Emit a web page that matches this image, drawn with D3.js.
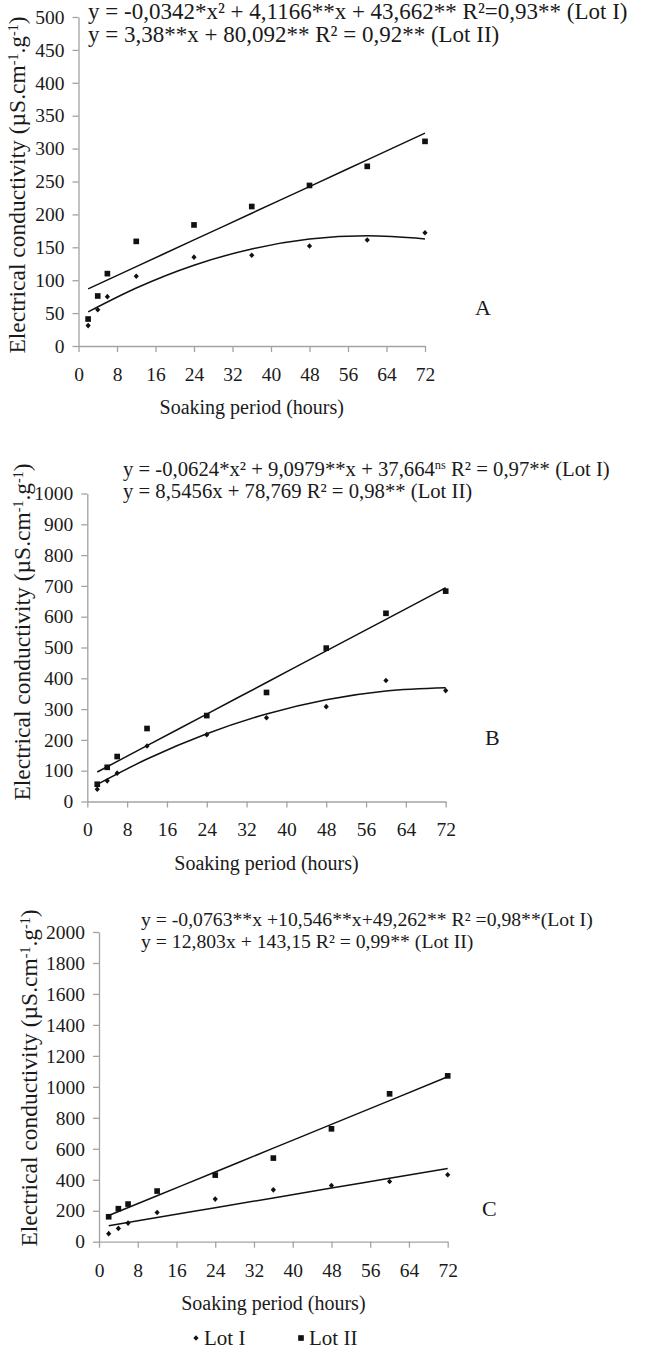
<!DOCTYPE html>
<html>
<head>
<meta charset="utf-8">
<script src="https://cdn.jsdelivr.net/npm/d3@7"></script>
<style>
  body { margin: 0; background: #fff; }
  svg text { font-family: "Liberation Serif", "Times New Roman", serif; fill: #1a1a1a; }
</style>
</head>
<body>
<div id="chart"></div>
<script>
// soaking times (hours) where conductivity was measured
const hours = [2, 4, 6, 12, 24, 36, 48, 60, 72];
const xTicks = [0, 8, 16, 24, 32, 40, 48, 56, 64, 72];

const lotI_A  = [31, 55, 75, 106, 135, 138, 152, 161, 172];
const lotII_A = [41, 76, 110, 159, 184, 212, 244, 273, 311];
const lotI_B  = [40, 67, 92, 180, 217, 272, 308, 393, 360];
const lotII_B = [56, 111, 146, 237, 279, 354, 498, 611, 683];
const lotI_C  = [52, 86, 120, 189, 275, 335, 363, 389, 432];
const lotII_C = [161, 213, 243, 327, 430, 540, 729, 955, 1071];

// trend lines, read at these hours
const trendHours = [2, 12, 24, 36, 48, 60, 72];
const trendI_A  = [51.8, 88.1, 122.8, 147.5, 162.5, 167.5, 162.8];
const trendII_A = [86.9, 120.7, 161.2, 201.8, 242.3, 282.9, 323.5];
const trendI_B  = [55.6, 137.9, 220.1, 284.3, 330.6, 358.9, 369.2];
const trendII_B = [95.9, 181.3, 283.9, 386.4, 489.0, 591.5, 694.1];
const trendI_C  = [103, 155.9, 219.3, 282.7, 346.1, 409.6, 473];
const trendII_C = [168.8, 296.8, 450.4, 604.1, 757.7, 911.3, 1065];

const yTicksA = d3.range(0, 501, 50);
const yTicksB = d3.range(0, 1001, 100);
const yTicksC = d3.range(0, 2001, 200);

// equation labels: [text, superscript?]
const eqA = [
  [["y = -0,0342*x² + 4,1166**x + 43,662** R²=0,93** (Lot I)"]],
  [["y = 3,38**x + 80,092** R² = 0,92** (Lot II)"]]
];
const eqB = [
  [["y = -0,0624*x² + 9,0979**x + 37,664"], ["ns", true], [" R² = 0,97** (Lot I)"]],
  [["y = 8,5456x + 78,769 R² = 0,98** (Lot II)"]]
];
const eqC = [
  [["y = -0,0763**x +10,546**x+49,262** R² =0,98**(Lot I)"]],
  [["y = 12,803x + 143,15 R² = 0,99** (Lot II)"]]
];

const W = 655, H = 1352;
const serif = '"Liberation Serif", "Times New Roman", serif';
const svg = d3.select("#chart").append("svg")
  .attr("width", W).attr("height", H);

const axisColor = "#a3a3a3";
const diamond = "M0,-2.8L2.6,0L0,2.8L-2.6,0Z";

function drawPanel(p) {
  const x = d3.scaleLinear().domain([0, 72]).range([p.left, p.right]);
  const y = d3.scaleLinear().domain([0, p.yMax]).range([p.bottom, p.top]);
  const g = svg.append("g");

  // axes
  const xa = g.append("g")
    .attr("transform", `translate(0,${p.bottom})`)
    .call(d3.axisBottom(x).tickValues(xTicks).tickFormat(d3.format("d"))
      .tickSize(6).tickPadding(15).tickSizeOuter(0));
  const ya = g.append("g")
    .attr("transform", `translate(${p.left},0)`)
    .call(d3.axisLeft(y).tickValues(p.yTicks).tickFormat(d3.format("d"))
      .tickSize(6).tickPadding(8).tickSizeOuter(0));
  [xa, ya].forEach(a => {
    a.attr("font-family", serif).attr("font-size", 19.5);
    a.select(".domain").attr("stroke", axisColor).attr("stroke-width", 1.3);
    a.selectAll(".tick line").attr("stroke", axisColor).attr("stroke-width", 1.3);
    a.selectAll(".tick text")
      .style("font-family", serif)
      .style("font-size", "19.5px").attr("fill", "#1a1a1a");
  });

  // trend lines
  const line = d3.line()
    .x((d, i) => x(trendHours[i]))
    .y(d => y(d))
    .curve(d3.curveMonotoneX);
  [p.trendI, p.trendII].forEach(t => {
    g.append("path").attr("d", line(t))
      .attr("fill", "none").attr("stroke", "#111").attr("stroke-width", 1.5);
  });

  // points
  g.selectAll(".sq").data(p.lotII).join("path")
    .attr("d", d3.symbol(d3.symbolSquare, 32))
    .attr("transform", (d, i) => `translate(${x(hours[i])},${y(d)})`)
    .attr("fill", "#111");
  g.selectAll(".dm").data(p.lotI).join("path")
    .attr("d", diamond)
    .attr("transform", (d, i) => `translate(${x(hours[i])},${y(d)})`)
    .attr("fill", "#111");

  // equations
  p.eq.forEach((parts, li) => {
    const t = g.append("text")
      .attr("x", p.eqX).attr("y", p.eqY[li])
      .style("font-size", p.eqSize + "px");
    parts.forEach(part => {
      const s = t.append("tspan").text(part[0]);
      if (part[1]) s.attr("baseline-shift", "super").style("font-size", (p.eqSize * 0.6) + "px");
    });
  });

  // panel letter
  g.append("text").attr("x", p.letterX).attr("y", p.letterY)
    .style("font-size", "22px").text(p.letter);

  // x title
  g.append("text")
    .attr("x", (p.left + p.right) / 2).attr("y", p.bottom + 68)
    .attr("text-anchor", "middle").style("font-size", "20px")
    .text("Soaking period (hours)");

  // y title
  const yt = g.append("text")
    .attr("transform", `translate(${p.yTitleX},${p.yTitleY}) rotate(-90)`)
    .attr("text-anchor", "middle").style("font-size", "23.5px");
  yt.append("tspan").text("Electrical conductivity (µS.cm");
  yt.append("tspan").text("-1").attr("baseline-shift", "super").style("font-size", "14px");
  yt.append("tspan").text(".g");
  yt.append("tspan").text("-1").attr("baseline-shift", "super").style("font-size", "14px");
  yt.append("tspan").text(")");
}

drawPanel({
  left: 78.5, right: 425, top: 17, bottom: 346, yMax: 500, yTicks: yTicksA,
  lotI: lotI_A, lotII: lotII_A, trendI: trendI_A, trendII: trendII_A,
  eq: eqA, eqX: 88, eqY: [19, 42], eqSize: 23,
  letter: "A", letterX: 475, letterY: 315,
  yTitleX: 25, yTitleY: 185
});
drawPanel({
  left: 87.3, right: 445.7, top: 493.5, bottom: 801.5, yMax: 1000, yTicks: yTicksB,
  lotI: lotI_B, lotII: lotII_B, trendI: trendI_B, trendII: trendII_B,
  eq: eqB, eqX: 123, eqY: [476, 498], eqSize: 20.7,
  letter: "B", letterX: 485, letterY: 745,
  yTitleX: 30, yTitleY: 632
});
drawPanel({
  left: 99, right: 447.7, top: 932, bottom: 1241.7, yMax: 2000, yTicks: yTicksC,
  lotI: lotI_C, lotII: lotII_C, trendI: trendI_C, trendII: trendII_C,
  eq: eqC, eqX: 141, eqY: [926, 948], eqSize: 19.7,
  letter: "C", letterX: 482, letterY: 1216,
  yTitleX: 37, yTitleY: 1078
});

// legend
const legend = svg.append("g").attr("transform", "translate(0,1338)");
legend.append("path").attr("d", diamond)
  .attr("transform", "translate(196,0)").attr("fill", "#111");
legend.append("text").attr("x", 204).attr("y", 7).style("font-size", "21px").text("Lot I");
legend.append("path").attr("d", d3.symbol(d3.symbolSquare, 32))
  .attr("transform", "translate(301,0)").attr("fill", "#111");
legend.append("text").attr("x", 309).attr("y", 7).style("font-size", "21px").text("Lot II");
</script>
</body>
</html>
